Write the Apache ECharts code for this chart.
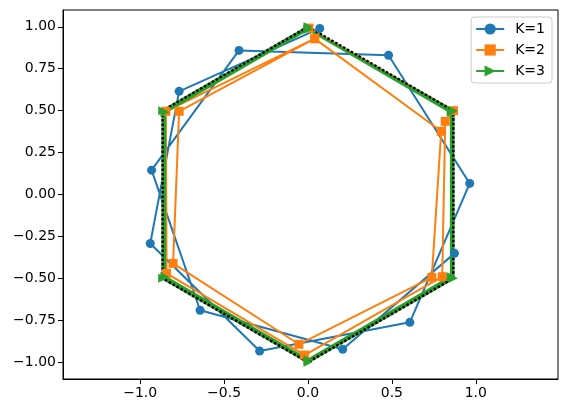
<!DOCTYPE html>
<html>
<head>
<meta charset="utf-8">
<title>Hexagon K</title>
<script src="https://cdn.jsdelivr.net/npm/echarts@6/dist/echarts.min.js"></script>
<style>
  html, body { margin: 0; padding: 0; background: #fff; }
  #main { width: 568px; height: 413px; }
</style>
</head>
<body>
<div id="main"></div>
<script>
// K=1 points, in drawing order
var k1X = [0.07, -0.768, -0.94, -0.288, 0.607, 0.964, 0.48, -0.411, -0.932, -0.643, 0.207, 0.873];
var k1Y = [0.99, 0.615, -0.292, -0.933, -0.762, 0.066, 0.83, 0.859, 0.145, -0.69, -0.923, -0.351];
// K=2 points
var k2X = [0.006, 0.867, 0.818, 0.80, -0.02, -0.843, -0.847, 0.04, 0.794, 0.738, -0.054, -0.804, -0.768, 0.04];
var k2Y = [0.992, 0.50, 0.436, -0.49, -0.957, -0.47, 0.496, 0.929, 0.377, -0.494, -0.893, -0.411, 0.496, 0.929];
// K=3 points
var k3X = [0, 0.853, 0.853, 0, -0.853, -0.853, 0, 0.866, 0.866, 0, -0.866, -0.866, 0];
var k3Y = [0.985, 0.49, -0.49, -0.985, -0.49, 0.49, 0.985, 0.5, -0.5, -1, -0.5, 0.5, 1];
// reference hexagon
var hexX = [0, 0.866, 0.866, 0, -0.866, -0.866, 0];
var hexY = [1, 0.5, -0.5, -1, -0.5, 0.5, 1];

var xTicks = [-1, -0.5, 0, 0.5, 1];
var yTicks = [-1, -0.75, -0.5, -0.25, 0, 0.25, 0.5, 0.75, 1];

function pairs(xs, ys) {
    var out = [];
    for (var i = 0; i < xs.length; i++) out.push([xs[i], ys[i]]);
    return out;
}
function fmt(v, d) {
    return (v < 0 ? '\u2212' : '') + Math.abs(v).toFixed(d);
}

var font = 'DejaVu Sans';
var chart = echarts.init(document.getElementById('main'), null, {renderer: 'canvas'});

var option = {
    animation: false,
    backgroundColor: '#fff',
    grid: {
        left: 63, right: 10, top: 10, bottom: 34,
        show: true, borderColor: '#000', borderWidth: 1, backgroundColor: 'transparent'
    },
    legend: {
        data: ['K=1', 'K=2', 'K=3'],
        orient: 'vertical',
        right: 16, top: 17,
        itemWidth: 28, itemHeight: 14, itemGap: 7,
        padding: [5, 7, 5, 4],
        borderColor: '#cccccc', borderWidth: 1, borderRadius: 3,
        backgroundColor: 'rgba(255,255,255,0.8)',
        textStyle: {fontFamily: font, fontSize: 14, color: '#000', padding: [0, 0, 0, 6]}
    },
    xAxis: {
        type: 'value', min: -1.46, max: 1.49,
        axisLine: {show: true, onZero: false, lineStyle: {color: '#000', width: 1}},
        axisTick: {show: true, length: 5, customValues: xTicks, lineStyle: {color: '#000', width: 1}},
        axisLabel: {customValues: xTicks, formatter: function (v) { return fmt(v, 1); },
            color: '#000', fontFamily: font, fontSize: 14, margin: 7},
        splitLine: {show: false}
    },
    yAxis: {
        type: 'value', min: -1.1, max: 1.1,
        axisLine: {show: true, onZero: false, lineStyle: {color: '#000', width: 1}},
        axisTick: {show: true, length: 5, customValues: yTicks, lineStyle: {color: '#000', width: 1}},
        axisLabel: {customValues: yTicks, formatter: function (v) { return fmt(v, 2); },
            color: '#000', fontFamily: font, fontSize: 14, margin: 7},
        splitLine: {show: false}
    },
    series: [
        {
            name: 'K=1', type: 'line', data: pairs(k1X, k1Y),
            symbol: 'circle', symbolSize: 9, showAllSymbol: true,
            itemStyle: {color: '#1f77b4'}, lineStyle: {color: '#1f77b4', width: 2}
        },
        {
            name: 'K=2', type: 'line', data: pairs(k2X, k2Y),
            symbol: 'rect', symbolSize: 9, showAllSymbol: true,
            itemStyle: {color: '#ff7f0e'}, lineStyle: {color: '#ff7f0e', width: 2}
        },
        {
            name: 'K=3', type: 'line', data: pairs(k3X, k3Y),
            symbol: 'triangle', symbolSize: 9, symbolRotate: -90, showAllSymbol: true,
            itemStyle: {color: '#2ca02c'}, lineStyle: {color: '#2ca02c', width: 2.5}
        },
        {
            name: 'hexagon', type: 'line', data: pairs(hexX, hexY),
            symbol: 'none', silent: true,
            lineStyle: {color: '#000', width: 2.5, type: [2.5, 2]}
        }
    ]
};
chart.setOption(option);
</script>
</body>
</html>
